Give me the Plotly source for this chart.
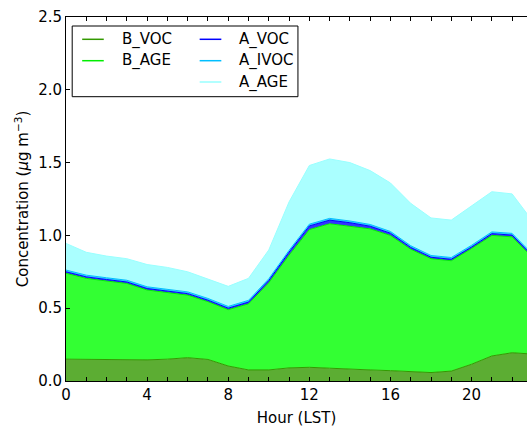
import plotly.graph_objects as go

hours = list(range(24))
B_VOC = [0.150, 0.148, 0.148, 0.148, 0.145, 0.150, 0.160, 0.148, 0.103, 0.076, 0.076, 0.090,
         0.094, 0.088, 0.080, 0.076, 0.071, 0.062, 0.058, 0.068, 0.115, 0.172, 0.194, 0.185]
B_AGE = [0.590, 0.557, 0.539, 0.522, 0.480, 0.460, 0.430, 0.397, 0.387, 0.454, 0.599, 0.775,
         0.946, 0.992, 0.985, 0.969, 0.929, 0.843, 0.782, 0.758, 0.795, 0.828, 0.796, 0.665]
A_VOC = [0.010, 0.010, 0.010, 0.010, 0.010, 0.010, 0.010, 0.010, 0.010, 0.012, 0.015, 0.020,
         0.025, 0.025, 0.022, 0.018, 0.015, 0.012, 0.010, 0.010, 0.010, 0.012, 0.012, 0.010]
A_IVOC = [0.012] * 24
A_AGE = [0.183, 0.157, 0.149, 0.148, 0.153, 0.148, 0.138, 0.133, 0.138, 0.151, 0.198, 0.333,
         0.403, 0.408, 0.401, 0.370, 0.333, 0.291, 0.258, 0.257, 0.268, 0.276, 0.271, 0.228]

series = [
    ("B_VOC", B_VOC, "#339900", "rgb(92,173,51)"),
    ("B_AGE", B_AGE, "#00ee00", "rgb(51,255,51)"),
    ("A_VOC", A_VOC, "#0000ff", "rgb(51,51,255)"),
    ("A_IVOC", A_IVOC, "#00bfff", "rgb(51,204,255)"),
    ("A_AGE", A_AGE, "#99ffff", "rgb(170,255,255)"),
]
x_ticks = [0, 4, 8, 12, 16, 20]
y_ticks = [0.0, 0.5, 1.0, 1.5, 2.0, 2.5]

W, H = 527, 428
L, T, B = 65.5, 17, 47
PW = W - L
PH = H - T - B
FONT = "DejaVu Sans"

fig = go.Figure()
for name, vals, lc, fc in series:
    fig.add_trace(go.Scatter(x=hours, y=vals, name=name, stackgroup="one", mode="lines",
                             line=dict(color=lc, width=1), fillcolor=fc, showlegend=False))

def px(xp):
    return (xp - L) / PW

def py(yp):
    return (H - B - yp) / PH

shapes = [dict(type="rect", xref="paper", yref="paper", x0=px(71.7), x1=px(297.7),
               y0=py(96.7), y1=py(26), line=dict(color="black", width=1), fillcolor="white",
               layer="above")]
annotations = []
legend_pos = [(0, 0), (0, 1), (1, 0), (1, 1), (1, 2)]
col_line = [(81.7, 103.3), (199.3, 221)]
col_text = [119.3, 236.7]
row_y = [39.3, 60.7, 82]
for (name, vals, lc, fc), (c, r) in zip(series, legend_pos):
    shapes.append(dict(type="line", xref="paper", yref="paper", x0=px(col_line[c][0]),
                       x1=px(col_line[c][1]), y0=py(row_y[r]), y1=py(row_y[r]),
                       line=dict(color=lc, width=1.5), layer="above"))
    annotations.append(dict(xref="paper", yref="paper", x=px(col_text[c]), y=py(row_y[r]),
                            text=name, showarrow=False, xanchor="left", yanchor="middle",
                            font=dict(family=FONT, size=15, color="black")))

fig.update_layout(
    width=W, height=H, margin=dict(l=L, r=0, t=T, b=B, pad=0),
    paper_bgcolor="white", plot_bgcolor="white",
    font=dict(family=FONT, size=15, color="black"),
    shapes=shapes, annotations=annotations, showlegend=False,
    xaxis=dict(range=[0, PW / 20.3], tickvals=x_ticks, ticktext=[str(v) for v in x_ticks],
               ticks="inside", ticklen=4, tickcolor="black", showline=True, linecolor="black",
               linewidth=1, mirror="ticks", showgrid=False, zeroline=False,
               minor=dict(dtick=1, ticks="inside", ticklen=4, tickcolor="black", showgrid=False),
               title=dict(text="Hour (LST)", standoff=9, font=dict(size=15)),
               tickfont=dict(size=15)),
    yaxis=dict(range=[0, 2.5], tickvals=y_ticks, ticktext=[f"{v:.1f}" for v in y_ticks],
               ticks="inside", ticklen=4, tickcolor="black", showline=True, linecolor="black",
               linewidth=1, mirror=False, showgrid=False, zeroline=False,
               title=dict(text="Concentration (<i>μ</i>g m<sup>−3</sup>)", standoff=5,
                          font=dict(size=15)),
               tickfont=dict(size=15)),
)

fig.write_html("out.html")
